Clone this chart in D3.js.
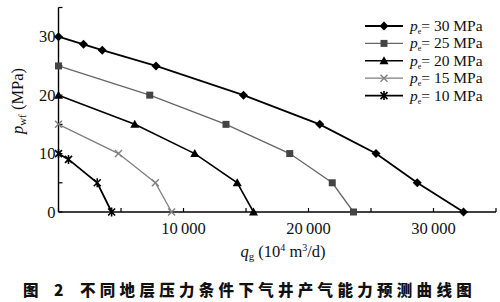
<!DOCTYPE html>
<html>
<head>
<meta charset="utf-8">
<script src="https://cdn.jsdelivr.net/npm/d3@7"></script>
<style>
  body { margin: 0; background: #fff; }
  svg { display: block; }
  text { font-family: "Liberation Serif", "DejaVu Serif", serif; fill: #111; }
</style>
</head>
<body>
<svg id="chart" width="500" height="302"></svg>
<script>
// formation pressure curves, q_g (10^4 m3/d) vs p_wf (MPa)
var pressures = [30, 25, 20, 15, 10];
var qg30 = [0, 2000, 3500, 7800, 14800, 20900, 25400, 28700, 32400];
var pwf30 = [30, 28.7, 27.7, 25, 20, 15, 10, 5, 0];
var qg25 = [0, 7300, 13400, 18500, 21900, 23600];
var pwf25 = [25, 20, 15, 10, 5, 0];
var qg20 = [0, 6100, 10900, 14300, 15600];
var pwf20 = [20, 15, 10, 5, 0];
var qg15 = [0, 4800, 7750, 9050];
var pwf15 = [15, 10, 5, 0];
var qg10 = [0, 800, 3100, 4250];
var pwf10 = [10, 9, 5, 0];

var xTicks = [0, 5000, 10000, 15000, 20000, 25000, 30000, 35000];
var xLabels = [10000, 20000, 30000];
var yTicks = [0, 5, 10, 15, 20, 25, 30, 35];
var yLabels = [0, 10, 20, 30];

var svg = d3.select('#chart');

var x = d3.scaleLinear().domain([0, 35000]).range([58.5, 496]);
var y = d3.scaleLinear().domain([0, 35]).range([212, 7.5]);

var series = [
    { p: 30, q: qg30, w: pwf30, color: '#000', width: 1.8, marker: 'diamond' },
    { p: 25, q: qg25, w: pwf25, color: '#666', width: 1.3, mcolor: '#444', marker: 'square' },
    { p: 20, q: qg20, w: pwf20, color: '#000', width: 1.6, marker: 'triangle' },
    { p: 15, q: qg15, w: pwf15, color: '#808080', width: 1.3, marker: 'cross' },
    { p: 10, q: qg10, w: pwf10, color: '#000', width: 1.8, marker: 'star' }
];

// axes
var gx = svg.append('g').attr('transform', 'translate(0,' + y(0) + ')');
gx.append('line').attr('x1', x(0)).attr('x2', x(35000))
    .attr('stroke', '#000').attr('stroke-width', 1.4);
gx.selectAll('.tk').data(xTicks).enter().append('line')
    .attr('x1', d => x(d)).attr('x2', d => x(d))
    .attr('y1', 0).attr('y2', -4)
    .attr('stroke', '#000').attr('stroke-width', 1.2);
gx.selectAll('.lb').data(xLabels).enter().append('text')
    .attr('x', d => x(d)).attr('y', 22)
    .attr('text-anchor', 'middle').attr('font-size', 16.5)
    .text(d => d3.format(',')(d).replace(',', '\u2009'));

var gy = svg.append('g').attr('transform', 'translate(' + x(0) + ',0)');
gy.append('line').attr('y1', y(0)).attr('y2', y(35))
    .attr('stroke', '#000').attr('stroke-width', 1.4);
gy.selectAll('.tk').data(yTicks).enter().append('line')
    .attr('y1', d => y(d)).attr('y2', d => y(d))
    .attr('x1', 0).attr('x2', 4)
    .attr('stroke', '#000').attr('stroke-width', 1.2);
gy.selectAll('.lb').data(yLabels).enter().append('text')
    .attr('x', -3).attr('y', d => y(d) + 5.5)
    .attr('text-anchor', 'end').attr('font-size', 16.5)
    .text(d => d);

// axis titles
var yt = svg.append('text')
    .attr('transform', 'translate(23,101) rotate(-90)')
    .attr('text-anchor', 'middle').attr('font-size', 16.5);
yt.append('tspan').attr('font-style', 'italic').text('p');
yt.append('tspan').attr('font-size', 11).attr('dy', 3).text('wf');
yt.append('tspan').attr('dy', -3).text(' (MPa)');

var xt = svg.append('text')
    .attr('x', 283).attr('y', 257)
    .attr('text-anchor', 'middle').attr('font-size', 16.5);
xt.append('tspan').attr('font-style', 'italic').text('q');
xt.append('tspan').attr('font-size', 11).attr('dy', 3).text('g');
xt.append('tspan').attr('dy', -3).text(' (10');
xt.append('tspan').attr('font-size', 10).attr('dy', -6).text('4');
xt.append('tspan').attr('dy', 6).text(' m');
xt.append('tspan').attr('font-size', 10).attr('dy', -6).text('3');
xt.append('tspan').attr('dy', 6).text('/d)');

function drawMarker(g, type, cx, cy, color) {
    var m = g.append('g').attr('transform', 'translate(' + cx + ',' + cy + ')');
    if (type === 'diamond') {
        m.append('path').attr('d', 'M0,-4.5L4.5,0L0,4.5L-4.5,0Z').attr('fill', color);
    } else if (type === 'square') {
        m.append('rect').attr('x', -3.5).attr('y', -3.5).attr('width', 7).attr('height', 7).attr('fill', color);
    } else if (type === 'triangle') {
        m.append('path').attr('d', 'M0,-4.5L4.5,3.5L-4.5,3.5Z').attr('fill', color);
    } else if (type === 'cross') {
        m.append('path').attr('d', 'M-3.5,-3.5L3.5,3.5M-3.5,3.5L3.5,-3.5')
            .attr('stroke', color).attr('stroke-width', 1.4);
    } else {
        m.append('path').attr('d', 'M-3.5,-3.5L3.5,3.5M-3.5,3.5L3.5,-3.5M0,-4.5L0,4.5')
            .attr('stroke', color).attr('stroke-width', 1.6);
    }
}

var line = d3.line().x(d => x(d[0])).y(d => y(d[1]));

series.forEach(function(s) {
    var pts = s.q.map((q, i) => [q, s.w[i]]);
    var g = svg.append('g');
    g.append('path').datum(pts).attr('d', line)
        .attr('fill', 'none').attr('stroke', s.color).attr('stroke-width', s.width);
    pts.forEach(function(p) {
        drawMarker(g, s.marker, x(p[0]), y(p[1]), s.mcolor || s.color);
    });
});

// legend
var leg = svg.append('g').attr('transform', 'translate(365,26)');
series.forEach(function(s, i) {
    var row = leg.append('g').attr('transform', 'translate(0,' + (i * 17.4) + ')');
    row.append('line').attr('x1', 0).attr('x2', 38)
        .attr('stroke', s.color).attr('stroke-width', s.width);
    drawMarker(row, s.marker, 19, 0, s.mcolor || s.color);
    var t = row.append('text').attr('x', 45).attr('y', 5).attr('font-size', 15.5);
    t.append('tspan').attr('font-style', 'italic').text('p');
    t.append('tspan').attr('font-size', 8).attr('dy', 3).text('e');
    t.append('tspan').attr('dy', -3).text('= ' + s.p + ' MPa');
});

// caption
svg.append('text')
    .attr('x', 23).attr('y', 296)
    .style('font-family', '"Noto Sans CJK SC", sans-serif')
    .attr('font-weight', 900).attr('font-size', 15.5)
    .attr('letter-spacing', 6)
    .text('图 2');
svg.append('text')
    .attr('x', 80).attr('y', 296)
    .style('font-family', '"Noto Sans CJK SC", sans-serif')
    .attr('font-weight', 900).attr('font-size', 15.5)
    .attr('letter-spacing', 4.3)
    .text('不同地层压力条件下气井产气能力预测曲线图');
</script>
</body>
</html>
